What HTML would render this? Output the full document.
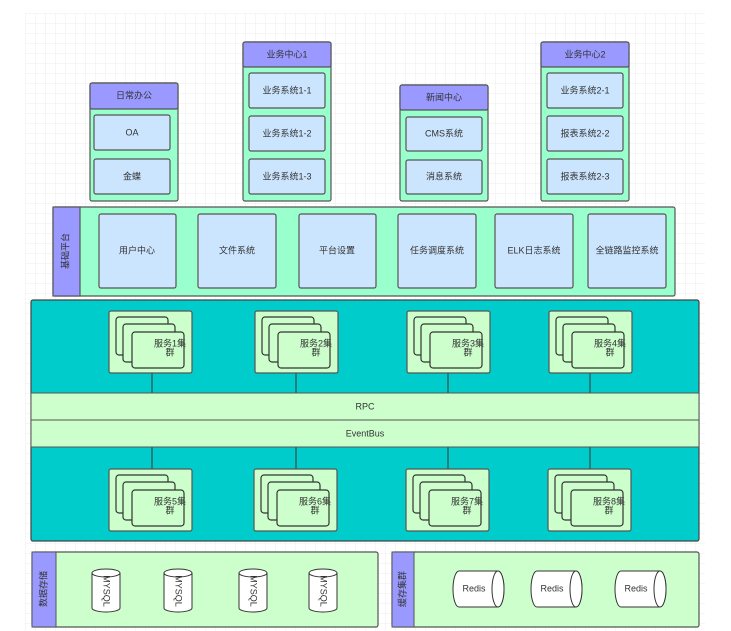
<!DOCTYPE html>
<html><head><meta charset="utf-8"><style>
html,body{margin:0;padding:0;background:#fff;}
svg{display:block;}
text{font-family:"Liberation Sans","Noto Sans CJK SC",sans-serif;font-size:9px;fill:#333;text-anchor:middle;dominant-baseline:middle;}
</style></head><body>
<svg width="731" height="631" viewBox="0 0 731 631" xmlns="http://www.w3.org/2000/svg">
<defs>
<pattern id="g" x="25" y="13" width="10" height="10" patternUnits="userSpaceOnUse">
<path d="M10 0H0V10" fill="none" stroke="#ececec" stroke-width="1"/>
</pattern>
<g id="cl">
<rect x="0" y="0" width="83" height="62" rx="2" fill="#ccffcc" stroke="#555" stroke-width="1.2"/>
<rect x="7" y="6" width="52" height="38" rx="3" fill="#ccffcc" stroke="#333" stroke-width="1.2"/>
<rect x="14" y="13" width="52" height="38" rx="3" fill="#ccffcc" stroke="#333" stroke-width="1.2"/>
<rect x="23" y="21" width="52" height="36" rx="3" fill="#ccffcc" stroke="#333" stroke-width="1.2"/>
</g>
<g id="my">
<path d="M0 5 V40 A14 4 0 0 0 28 40 V5" fill="#fff" stroke="#333"/>
<ellipse cx="14" cy="5" rx="14" ry="4" fill="#fff" stroke="#333"/>
</g>
<g id="rd">
<path d="M6 0 H45 A6 18 0 0 1 45 36 H6 A6 18 0 0 1 6 0Z" fill="#fff" stroke="#333"/>
<ellipse cx="45" cy="18" rx="6" ry="18" fill="#fff" stroke="#333"/>
</g>
</defs>
<rect x="25" y="13" width="680" height="618" fill="url(#g)"/>

<!-- top groups -->
<g stroke="#555" stroke-width="1.2">
<rect x="90" y="83" width="88" height="118" rx="2" fill="#99ffcc"/>
<rect x="90" y="83" width="88" height="26" rx="2" fill="#9999ff"/>
<rect x="94" y="115" width="76" height="35" rx="2" fill="#cce5ff"/>
<rect x="94" y="159" width="76" height="35" rx="2" fill="#cce5ff"/>

<rect x="243" y="42" width="88" height="159" rx="2" fill="#99ffcc"/>
<rect x="243" y="42" width="88" height="25" rx="2" fill="#9999ff"/>
<rect x="249" y="73" width="76" height="35" rx="2" fill="#cce5ff"/>
<rect x="249" y="116" width="76" height="35" rx="2" fill="#cce5ff"/>
<rect x="249" y="159" width="76" height="35" rx="2" fill="#cce5ff"/>

<rect x="400" y="85" width="88" height="116" rx="2" fill="#99ffcc"/>
<rect x="400" y="85" width="88" height="25" rx="2" fill="#9999ff"/>
<rect x="406" y="117" width="76" height="34" rx="2" fill="#cce5ff"/>
<rect x="406" y="160" width="76" height="34" rx="2" fill="#cce5ff"/>

<rect x="541" y="42" width="88" height="159" rx="2" fill="#99ffcc"/>
<rect x="541" y="42" width="88" height="25" rx="2" fill="#9999ff"/>
<rect x="547" y="73" width="76" height="35" rx="2" fill="#cce5ff"/>
<rect x="547" y="116" width="76" height="35" rx="2" fill="#cce5ff"/>
<rect x="547" y="159" width="76" height="35" rx="2" fill="#cce5ff"/>

<rect x="53" y="207" width="622" height="89" rx="2" fill="#99ffcc"/>
<rect x="53" y="207" width="27" height="89" fill="#9999ff"/>
<rect x="99" y="214" width="77" height="74" rx="2" fill="#cce5ff"/>
<rect x="198" y="214" width="78" height="74" rx="2" fill="#cce5ff"/>
<rect x="299" y="214" width="77" height="74" rx="2" fill="#cce5ff"/>
<rect x="398" y="214" width="78" height="74" rx="2" fill="#cce5ff"/>
<rect x="495" y="214" width="78" height="74" rx="2" fill="#cce5ff"/>
<rect x="588" y="214" width="78" height="74" rx="2" fill="#cce5ff"/>
</g>
<text x="134" y="96">日常办公</text>
<text x="132" y="133">OA</text>
<text x="132" y="177">金蝶</text>
<text x="287" y="55">业务中心1</text>
<text x="287" y="91">业务系统1-1</text>
<text x="287" y="134">业务系统1-2</text>
<text x="287" y="177">业务系统1-3</text>
<text x="444" y="98">新闻中心</text>
<text x="444" y="134">CMS系统</text>
<text x="444" y="177">消息系统</text>
<text x="585" y="55">业务中心2</text>
<text x="585" y="91">业务系统2-1</text>
<text x="585" y="134">报表系统2-2</text>
<text x="585" y="177">报表系统2-3</text>
<text x="66" y="251" transform="rotate(-90 66 251)">基础平台</text>
<text x="137" y="251">用户中心</text>
<text x="237" y="251">文件系统</text>
<text x="337" y="251">平台设置</text>
<text x="437" y="251">任务调度系统</text>
<text x="534" y="251">ELK日志系统</text>
<text x="627" y="251">全链路监控系统</text>

<!-- teal services -->
<rect x="31" y="300" width="668" height="241" rx="2" fill="#00cccc" stroke="#444" stroke-width="1.2"/>
<g stroke="#333" stroke-width="1">
<line x1="152" y1="373" x2="152" y2="393"/><line x1="296" y1="373" x2="296" y2="393"/>
<line x1="448" y1="373" x2="448" y2="393"/><line x1="590" y1="373" x2="590" y2="393"/>
<line x1="152" y1="447" x2="152" y2="469"/><line x1="296" y1="447" x2="296" y2="469"/>
<line x1="448" y1="447" x2="448" y2="469"/><line x1="590" y1="447" x2="590" y2="469"/>
</g>
<rect x="31" y="393" width="668" height="27" fill="#ccffcc" stroke="#555"/>
<rect x="31" y="420" width="668" height="27" fill="#ccffcc" stroke="#555"/>
<text x="365" y="407">RPC</text>
<text x="365" y="434">EventBus</text>
<use href="#cl" x="109" y="311"/><use href="#cl" x="255" y="311"/><use href="#cl" x="407" y="311"/><use href="#cl" x="549" y="311"/>
<use href="#cl" x="109" y="469"/><use href="#cl" x="254" y="469"/><use href="#cl" x="406" y="469"/><use href="#cl" x="548" y="469"/>
<g style="font-size:9px">
<text x="170" y="344">服务1集</text><text x="170" y="353">群</text>
<text x="316" y="344">服务2集</text><text x="316" y="353">群</text>
<text x="468" y="344">服务3集</text><text x="468" y="353">群</text>
<text x="610" y="344">服务4集</text><text x="610" y="353">群</text>
<text x="170" y="502">服务5集</text><text x="170" y="511">群</text>
<text x="315" y="502">服务6集</text><text x="315" y="511">群</text>
<text x="467" y="502">服务7集</text><text x="467" y="511">群</text>
<text x="609" y="502">服务8集</text><text x="609" y="511">群</text>
</g>

<!-- storage -->
<rect x="32" y="552" width="346" height="75" rx="2" fill="#ccffcc" stroke="#555" stroke-width="1.2"/>
<rect x="32" y="552" width="24" height="75" fill="#9999ff" stroke="#555"/>
<text x="44" y="589" transform="rotate(-90 44 589)">数据存储</text>
<use href="#my" x="92" y="568"/><use href="#my" x="164" y="568"/><use href="#my" x="239" y="568"/><use href="#my" x="309" y="568"/>
<text x="106" y="591" transform="rotate(90 106 591)">MYSQL</text>
<text x="178" y="591" transform="rotate(90 178 591)">MYSQL</text>
<text x="253" y="591" transform="rotate(90 253 591)">MYSQL</text>
<text x="323" y="591" transform="rotate(90 323 591)">MYSQL</text>

<rect x="392" y="552" width="307" height="75" rx="2" fill="#ccffcc" stroke="#555" stroke-width="1.2"/>
<rect x="392" y="552" width="22" height="75" fill="#9999ff" stroke="#555"/>
<text x="403" y="589" transform="rotate(-90 403 589)">缓存集群</text>
<use href="#rd" x="453" y="571"/><use href="#rd" x="531" y="571"/><use href="#rd" x="615" y="571"/>
<text x="474" y="589">Redis</text><text x="552" y="589">Redis</text><text x="636" y="589">Redis</text>
</svg>
</body></html>
